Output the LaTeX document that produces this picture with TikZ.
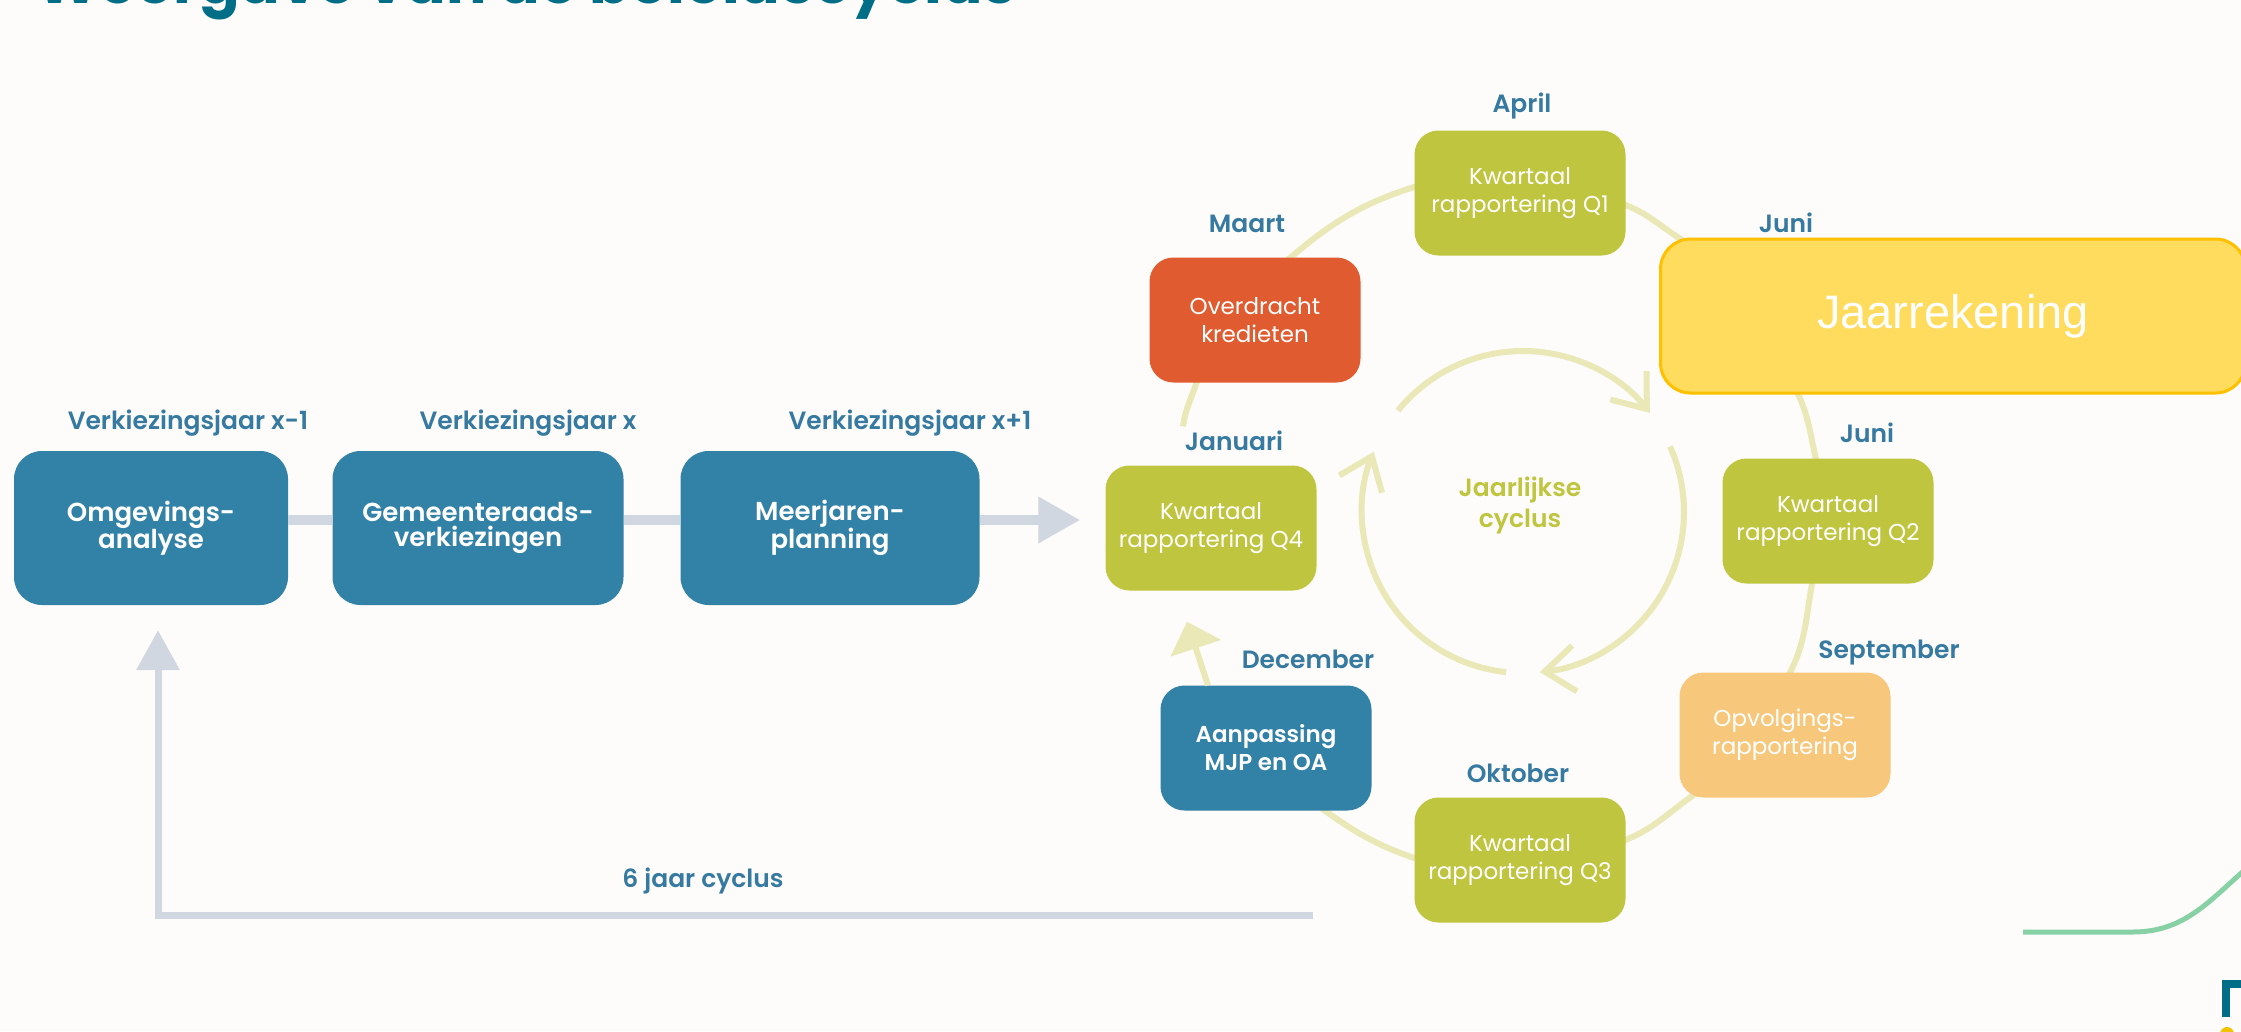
\documentclass[tikz,border=0pt]{standalone}
\usepackage{fontspec}
\setmainfont{Poppins}
\newfontfamily\semib{Poppins SemiBold}
\newfontfamily\arialish{Liberation Sans}
\usetikzlibrary{arrows.meta}
\definecolor{bg}{HTML}{FDFCFA}
\definecolor{boxblue}{HTML}{3281A6}
\definecolor{labelblue}{HTML}{3679A1}
\definecolor{olive}{HTML}{C0C540}
\definecolor{rust}{HTML}{E05B2F}
\definecolor{peach}{HTML}{F7C77B}
\definecolor{sun}{HTML}{FFDB5E}
\definecolor{sunedge}{HTML}{FFC000}
\definecolor{pale}{HTML}{E9E8B6}
\definecolor{greyline}{HTML}{D0D7E1}
\definecolor{teal}{HTML}{006E87}
\definecolor{mint}{HTML}{88D1A5}
\definecolor{dot}{HTML}{F2C300}
\pgfdeclarelayer{back}
\pgfsetlayers{back,main}

\begin{document}
\begin{tikzpicture}[x=1pt, y=1pt,
    plan/.style={rounded corners=28pt, fill=boxblue, text=white, align=center,
      minimum height=154pt, font=\semib\fontsize{26}{25}\selectfont},
    kwart/.style={rounded corners=24pt, text=white, align=center, minimum width=211pt,
      minimum height=125pt, font=\fontsize{23}{28}\selectfont},
    maand/.style={anchor=base, text=labelblue, font=\semib\fontsize{25}{30}\selectfont},
    ring/.style={pale, line width=6pt},
    flow/.style={greyline, line width=10pt}]
\useasboundingbox (0,0) rectangle (2241,-1031);
\begin{pgfonlayer}{back}
  \fill[bg] (0,0) rectangle (2241,-1031);
\end{pgfonlayer}
\clip (0,0) rectangle (2241,-1031);

\node[anchor=base west, text=teal, font=\bfseries\fontsize{60}{64}\selectfont] (titel) at (33,-3) {Weergave van de beleidscyclus};

% zesjarige cyclus
\node[plan, minimum width=274pt] (omg) at (151,-528) {Omgevings-\\analyse};
\node[plan, minimum width=291pt] (gem) at (478,-528) {Gemeenteraads-\\verkiezingen};
\node[plan, minimum width=299pt] (mjp) at (830,-528) {Meerjaren-\\planning};
\node[maand] (vj1) at (188,-429) {Verkiezingsjaar x-1};
\node[maand] (vj2) at (528,-429) {Verkiezingsjaar x};
\node[maand] (vj3) at (910,-429) {Verkiezingsjaar x+1};
\node[maand] (zes) at (703,-887) {6 jaar cyclus};

% jaarlijkse cyclus
\node[kwart, fill=olive] (q1) at (1520,-193) {Kwartaal\\rapportering Q1};
\node[kwart, fill=rust] (krediet) at (1255,-320) {Overdracht\\kredieten};
\node[kwart, fill=olive] (q4) at (1211,-528) {Kwartaal\\rapportering Q4};
\node[kwart, fill=olive] (q2) at (1828,-521) {Kwartaal\\rapportering Q2};
\node[kwart, fill=peach] (opv) at (1785,-735) {Opvolgings-\\rapportering};
\node[kwart, fill=olive] (q3) at (1520,-860) {Kwartaal\\rapportering Q3};
\node[kwart, fill=boxblue, font=\semib\fontsize{23}{28}\selectfont] (mjpoa) at (1266,-748) {Aanpassing\\MJP en OA};
\node[fill=sun, draw=sunedge, line width=3pt, rounded corners=30pt, minimum width=585pt,
  minimum height=154pt, text=white, font=\arialish\fontsize{47}{50}\selectfont] (jaar) at (1953,-316) {Jaarrekening};
\node[maand] (apr) at (1522,-112) {April};
\node[maand] (maa) at (1247,-232) {Maart};
\node[maand] (jun1) at (1786,-232) {Juni};
\node[maand] (jan) at (1234,-450) {Januari};
\node[maand] (jun2) at (1867,-442) {Juni};
\node[maand] (dec) at (1308,-668) {December};
\node[maand] (sep) at (1889,-658) {September};
\node[maand] (okt) at (1518,-782) {Oktober};
\node[align=center, text=olive, font=\semib\fontsize{25}{31}\selectfont] (jc) at (1520,-505) {Jaarlijkse\\cyclus};

\coordinate (mid) at (1523,-512);
\draw[ring, -{Straight Barb[length=30pt,width=46pt]}] ([shift={(141:161)}]mid) arc[start angle=141, end angle=38, radius=161];
\draw[ring, -{Straight Barb[length=30pt,width=46pt]}] ([shift={(24:161)}]mid) arc[start angle=24, end angle=-84, radius=161];
\draw[ring, -{Straight Barb[length=30pt,width=46pt]}] ([shift={(264:161)}]mid) arc[start angle=264, end angle=158, radius=161];

\begin{pgfonlayer}{back}
  \draw[ring] ([xshift=30pt,yshift=-5pt]krediet.north) to[out=41,in=197] ([xshift=6pt,yshift=8pt]q1.west);
  \draw[ring] ([xshift=-6pt,yshift=-10pt]q1.east) to[out=-18,in=150] ([xshift=29pt,yshift=-6pt]jaar.north west);
  \draw[ring] ([xshift=-157pt,yshift=5pt]jaar.south) to[out=-64,in=103] ([xshift=-11pt,yshift=-6pt]q2.north);
  \draw[ring] ([xshift=-15pt,yshift=5pt]q2.south) to[out=-101,in=61] ([xshift=2pt,yshift=-6pt]opv.north);
  \draw[ring] ([xshift=-85pt,yshift=7pt]opv.south) to[out=-147,in=19] ([xshift=-6pt,yshift=18pt]q3.east);
  \draw[ring] ([xshift=6pt]q3.west) to[out=162,in=-36] ([xshift=52pt,yshift=5pt]mjpoa.south);
  \draw[ring] ([xshift=-57pt,yshift=5pt]krediet.south) to[out=-106,in=82] ([xshift=-28pt,yshift=39pt]q4.north);
\end{pgfonlayer}
\draw[ring, -{Triangle[length=28pt,width=52pt]}] ([xshift=-58pt]mjpoa.north) -- ([xshift=-24pt,yshift=-31pt]q4.south);

% verbindingen
\draw[flow] ([yshift=8pt]omg.east) -- ([yshift=8pt]gem.west);
\draw[flow] ([yshift=8pt]gem.east) -- ([yshift=8pt]mjp.west);
\draw[flow, -{Triangle[length=42pt,width=44pt]}, shorten >=25pt] ([yshift=8pt]mjp.east) -- ([yshift=8pt]q4.west);
\coordinate (lus) at (1313,-915);
\draw[flow, line width=7pt, -{Triangle[length=40pt,width=42pt]}, shorten >=25pt] (lus) -| ([xshift=7pt]omg.south);

% hoek rechtsonder
\draw[mint, line width=5pt] (2023,-932) -- (2133,-932) to[out=0,in=215] (2270,-850);
\fill[teal] (2222,-980) rectangle (2241,-988);
\fill[teal] (2222,-980) rectangle (2230,-1017);
\fill[dot] (2227,-1034) circle (7);
\end{tikzpicture}
\end{document}
